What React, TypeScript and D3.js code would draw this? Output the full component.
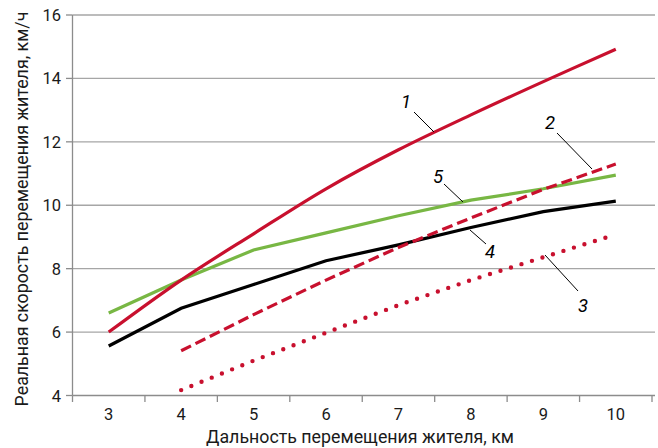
import React from "react";
import * as d3 from "d3";

const categories = ["3", "4", "5", "6", "7", "8", "9", "10"];
const yTicks = [4, 6, 8, 10, 12, 14, 16];

// series values (null = no data)
const series1 = [6.0, 7.64, 9.1, 10.52, 11.75, 12.85, 13.9, 14.92];
const series2 = [null, 5.41, 6.55, 7.64, 8.67, 9.6, 10.5, 11.3];
const series3 = [null, 4.17, 5.1, 5.98, 6.85, 7.64, 8.36, 9.08];
const series4 = [5.56, 6.75, 7.5, 8.25, 8.75, 9.3, 9.8, 10.13];
const series5 = [6.6, 7.64, 8.59, 9.13, 9.67, 10.16, 10.52, 10.95];

const xTitle = "Дальность перемещения жителя, км";
const yTitle = "Реальная скорость перемещения жителя, км/ч";

const RED = "#c8102e";
const GREEN = "#78b744";
const FONT = "Roboto, 'Open Sans', sans-serif";

export default function App() {
  const W = 658;
  const H = 448;
  const left = 72.5;
  const right = 652;
  const top = 15;
  const bottom = 395.5;

  const x = d3.scaleBand<string>().domain(categories).range([left, right]).padding(0);
  const y = d3.scaleLinear().domain([4, 16]).range([bottom, top]);
  const cx = (c: string) => (x(c) as number) + x.bandwidth() / 2;

  type P = { c: string; v: number | null };
  const toPts = (arr: (number | null)[]): P[] => categories.map((c, i) => ({ c, v: arr[i] }));

  const lin = d3
    .line<P>()
    .defined((d) => d.v !== null)
    .x((d) => cx(d.c))
    .y((d) => y(d.v as number))
    .curve(d3.curveLinear);
  const smooth = d3
    .line<P>()
    .defined((d) => d.v !== null)
    .x((d) => cx(d.c))
    .y((d) => y(d.v as number))
    .curve(d3.curveCatmullRom.alpha(0.5));

  const boundaries = categories.map((c) => x(c) as number).concat([right]);

  const labels = [
    { t: "1", tx: 406, ty: 108, x1: 414, y1: 112, x2: 434, y2: 132 },
    { t: "2", tx: 550, ty: 129, x1: 557, y1: 133, x2: 592, y2: 169 },
    { t: "5", tx: 438, ty: 183, x1: 444, y1: 184, x2: 463, y2: 202 },
    { t: "4", tx: 490, ty: 258, x1: 486, y1: 244, x2: 470, y2: 230 },
    { t: "3", tx: 583, ty: 312, x1: 578, y1: 291, x2: 545, y2: 255 },
  ];

  return (
    <svg width={W} height={H} style={{ position: "absolute", left: 0, top: 0, background: "#fff" }}>
      {/* gridlines */}
      {yTicks.filter((t) => t > 4).map((t) => (
        <line key={"g" + t} x1={left} x2={655} y1={y(t)} y2={y(t)} stroke="#a6a6a6" strokeWidth={1.3} />
      ))}
      {/* axes */}
      <line x1={left} x2={left} y1={top} y2={bottom} stroke="#8c8c8c" strokeWidth={1.3} />
      <line x1={left} x2={655} y1={bottom} y2={bottom} stroke="#8c8c8c" strokeWidth={1.3} />
      {yTicks.map((t) => (
        <g key={"yt" + t}>
          <line x1={left - 6.5} x2={left} y1={y(t)} y2={y(t)} stroke="#8c8c8c" strokeWidth={1.3} />
          <text x={61} y={y(t) + 6} textAnchor="end" fontSize={16.5} fontFamily={FONT} fill="#1a1a1a">
            {t}
          </text>
        </g>
      ))}
      {boundaries.map((b, i) => (
        <line key={"xt" + i} x1={b} x2={b} y1={bottom} y2={bottom + 6.5} stroke="#8c8c8c" strokeWidth={1.3} />
      ))}
      {categories.map((c) => (
        <text key={"xl" + c} x={cx(c)} y={420} textAnchor="middle" fontSize={16.5} fontFamily={FONT} fill="#1a1a1a">
          {c}
        </text>
      ))}
      <text x={360} y={443} textAnchor="middle" fontSize={17.8} fontFamily={FONT} fill="#1a1a1a">
        {xTitle}
      </text>
      <text
        transform={`translate(28, 209) rotate(-90)`}
        textAnchor="middle"
        fontSize={17.8}
        fontFamily={FONT}
        fill="#1a1a1a"
      >
        {yTitle}
      </text>

      {/* series */}
      <path d={lin(toPts(series3)) || ""} fill="none" stroke={RED} strokeWidth={4.4} strokeDasharray="0 11" strokeLinecap="round" />
      <path d={lin(toPts(series4)) || ""} fill="none" stroke="#000" strokeWidth={3.2} />
      <path d={lin(toPts(series5)) || ""} fill="none" stroke={GREEN} strokeWidth={3.2} />
      <path d={lin(toPts(series2)) || ""} fill="none" stroke={RED} strokeWidth={3.2} strokeDasharray="11 5" />
      <path d={smooth(toPts(series1)) || ""} fill="none" stroke={RED} strokeWidth={3.2} />

      {/* annotations */}
      {labels.map((l) => (
        <g key={"lb" + l.t}>
          <line x1={l.x1} y1={l.y1} x2={l.x2} y2={l.y2} stroke="#000" strokeWidth={1} />
          <text x={l.tx} y={l.ty} textAnchor="middle" fontSize={18.5} fontStyle="italic" fontFamily={FONT} fill="#000">
            {l.t}
          </text>
        </g>
      ))}
    </svg>
  );
}
